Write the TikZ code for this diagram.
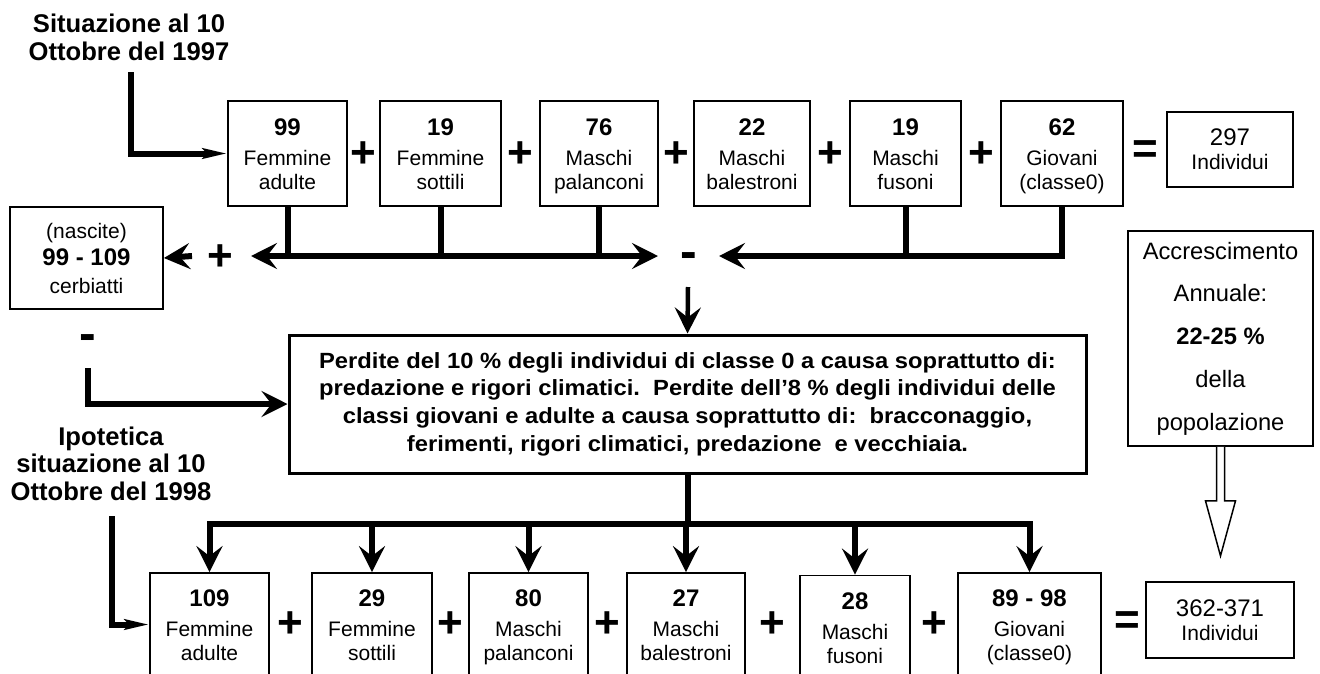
\documentclass[tikz,border=0pt]{standalone}
\usepackage{fontspec}
\setmainfont{Liberation Sans}
\newfontfamily\widefont[FakeStretch=1.08]{Liberation Sans}
\usetikzlibrary{arrows.meta,positioning,calc}
\newcommand{\bnum}[1]{{\fontsize{24}{24}\selectfont\bfseries #1}}
\newcommand{\cell}[3]{\rule{0pt}{23pt}\bnum{#1}\\[6pt]#2\\#3\vphantom{p}}

\begin{document}
\begin{tikzpicture}[x=1pt,y=-1pt,
  box/.style={draw,line width=1.8pt,inner sep=0pt,align=center,font=\fontsize{21}{24}\selectfont},
  bigbox/.style={draw,line width=3pt,inner sep=0pt,align=center,font=\widefont\bfseries\fontsize{22}{27.7}\selectfont},
  titletext/.style={inner sep=0pt,align=center,font=\bfseries\fontsize{25.6}{27.5}\selectfont},
  sign/.style={inner sep=0pt,font=\fontsize{44}{44}\selectfont\bfseries},
  minus/.style={inner sep=0pt,font=\fontsize{50}{50}\selectfont\bfseries},
  conn/.style={line width=6pt},
  bigtip/.style={-{Stealth[length=26pt,width=26pt,inset=10pt]}},
  bothtip/.style={{Stealth[length=26pt,width=26pt,inset=10pt]}-{Stealth[length=26pt,width=26pt,inset=10pt]}},
  thintip/.style={-{Stealth[length=24pt,width=10pt,inset=4pt]}}]
\useasboundingbox (0,0) rectangle (1320,673);
\clip (0,0) rectangle (1320,673);

\node[titletext] (sit1) at (129,37.5) {Situazione al 10\\Ottobre del 1997};
\node[titletext] (sit2) at (111,463.5) {Ipotetica\\situazione al 10\\Ottobre del 1998};

\node[box,minimum width=119,minimum height=105] (b1) at (287.5,153.5) {\cell{99}{Femmine}{adulte}};
\node[box,minimum width=121,minimum height=105] (b2) at (440.5,153.5) {\cell{19}{Femmine}{sottili}};
\node[box,minimum width=118,minimum height=105] (b3) at (599,153.5) {\cell{76}{Maschi}{palanconi}};
\node[box,minimum width=116,minimum height=105] (b4) at (752,153.5) {\cell{22}{Maschi}{balestroni}};
\node[box,minimum width=111,minimum height=105] (b5) at (905.5,153.5) {\cell{19}{Maschi}{fusoni}};
\node[box,minimum width=122,minimum height=105] (b6) at (1062,153.5) {\cell{62}{Giovani}{(classe0)}};
\node[box,minimum width=126,minimum height=75] (b7) at (1230,149.5) {{\fontsize{24}{24}\selectfont 297}\\Individui};

\node[box,minimum width=153,minimum height=102,font=\fontsize{21}{27.5}\selectfont] (nascite) at (86.5,258) {(nascite)\\\bnum{99 - 109}\\cerbiatti};
\node[bigbox,minimum width=797,minimum height=138] (big) at (687.5,404)
  {Perdite del 10 \% degli individui di classe 0 a causa soprattutto di:\\
   predazione e rigori climatici.\ \ Perdite dell’8 \% degli individui delle\\
   classi giovani e adulte a causa soprattutto di:\ \ bracconaggio,\\
   ferimenti, rigori climatici, predazione\ \ e vecchiaia.};
\node[box,minimum width=185,minimum height=215,font=\fontsize{23.7}{42.7}\selectfont] (accr) at (1220.5,338.5)
  {Accrescimento\\Annuale:\\\textbf{22-25 \%}\\della\\popolazione};

\node[box,minimum width=119,minimum height=103] (c1) at (209.5,624.5) {\cell{109}{Femmine}{adulte}};
\node[box,minimum width=120,minimum height=103] (c2) at (372,624.5) {\cell{29}{Femmine}{sottili}};
\node[box,minimum width=119,minimum height=103] (c3) at (528.5,624.5) {\cell{80}{Maschi}{palanconi}};
\node[box,minimum width=118,minimum height=103] (c4) at (686,624.5) {\cell{27}{Maschi}{balestroni}};
\node[box,minimum width=110,minimum height=103] (c5) at (855,627) {\cell{28}{Maschi}{fusoni}};
\node[box,minimum width=143,minimum height=103] (c6) at (1029.5,624.5) {\cell{89 - 98}{Giovani}{(classe0)}};
\node[box,minimum width=148,minimum height=76] (c7) at (1220,620) {{\fontsize{24}{24}\selectfont 362-371}\\Individui};

\foreach \x [count=\i] in {363.5,520.5,676,830,981}
  \node[sign] (p\i) at (\x,155) {+};
\foreach \x [count=\i] in {290.5,450.5,607.5,772.5,934}
  \node[sign] (q\i) at (\x,625) {+};
\node[sign] (eq1) at (1145,152.5) {=};
\node[sign] (eq2) at (1127.5,623.5) {=};
\node[sign] (pn) at (220.5,258) {+};
\node[minus] (mn1) at (688.5,261) {-};
\node[minus] (mn2) at (88,342.5) {-};

\coordinate (hl) at (0,256);
\coordinate (bl) at (0,523.5);
\coordinate (s1) at (131,72);
\coordinate (s2) at (112,516);
\coordinate (e1) at (88,368);
\coordinate (tl) at (251,256);
\coordinate (tr) at (658,256);
\coordinate (tr2) at (719,256);
\coordinate (pa) at (192,256);
\coordinate (dn) at (688,287);

\draw[conn,thintip] (s1) |- (b1.west);
\draw[conn,thintip] (s2) |- (c1.west);
\draw[conn] (b1.south) -- (b1.south |- hl) -- (b3.south |- hl) -- (b3.south);
\draw[conn] (b2.south) -- (b2.south |- hl);
\draw[conn,bigtip] (b1.south |- hl) -- (tl);
\draw[conn,bigtip] (b3.south |- hl) -- (tr);
\draw[conn,bigtip] (pa) -- (nascite.east);
\draw[conn] (b5.south) -- (b5.south |- hl);
\draw[conn,bigtip] (b6.south) |- (tr2);
\draw[line width=4.5pt,bigtip] (dn) -- (big.north);
\draw[conn,bigtip] (e1) |- (big.west);
\draw[conn] (big.south) -- (big.south |- bl);
\draw[conn,bothtip] (c1.north) -- (c1.north |- bl) -- (c6.north |- bl) -- (c6.north);
\foreach \n in {c2,c3,c4,c5}
  \draw[conn,bigtip] (\n.north |- bl) -- (\n.north);
\draw[line width=1.5pt,fill=white] ([xshift=-4pt]accr.south) -- ++(0,54) -- ++(-11,0) -- ++(15,55) -- ++(15,-55) -- ++(-11,0) -- ++(0,-54);
\end{tikzpicture}
\end{document}
